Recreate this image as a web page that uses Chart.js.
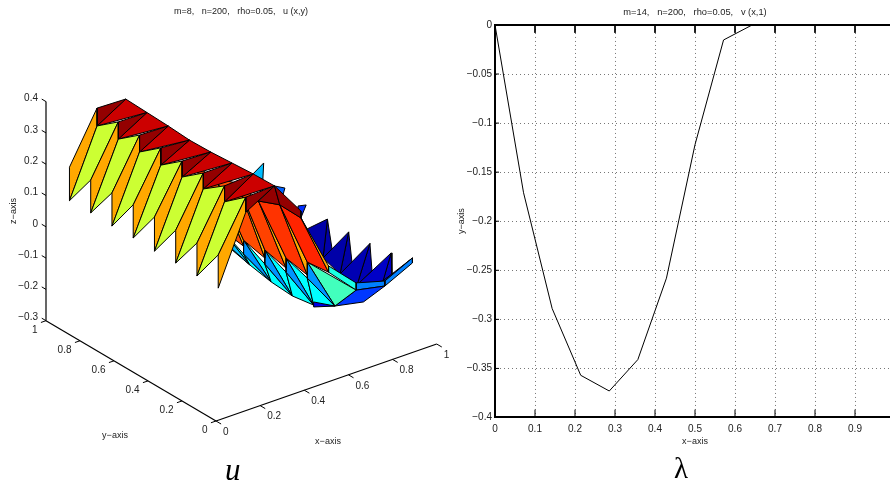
<!DOCTYPE html>
<html>
<head>
<meta charset="utf-8">
<title>u and lambda</title>
<script src="https://cdn.jsdelivr.net/npm/chart.js@4"></script>
<style>
  html, body { margin: 0; padding: 0; background: #fff; overflow: hidden; width: 890px; height: 481px; }
  canvas { position: absolute; top: 0; }
  #surfaceChart { left: 0; }
  #lineChart { left: 445px; }
  .caption { position: absolute; color: #000; font-family: "Liberation Serif", serif; line-height: 1; }
</style>
</head>
<body>
<canvas id="surfaceChart" width="470" height="481"></canvas>
<canvas id="lineChart" width="456" height="481"></canvas>
<div class="caption" id="captionU" style="left:225px;top:454px;font-size:31px;font-style:italic;">u</div>
<div class="caption" id="captionL" style="left:674px;top:454px;font-size:29px;">λ</div>
<script>
// right panel: v(x,1) values
const lineX = [0, 0.0714, 0.1429, 0.2143, 0.2857, 0.3571, 0.4286, 0.5, 0.5714, 0.6429, 0.7143, 0.7857, 0.8571, 0.9286, 1];
const lineV = [0, -0.171, -0.289, -0.357, -0.373, -0.341, -0.258, -0.122, -0.0153, 0, 0, 0, 0, 0, 0];
const lineXTicks = [0, 0.1, 0.2, 0.3, 0.4, 0.5, 0.6, 0.7, 0.8, 0.9, 1];
const lineXLabels = ["0", "0.1", "0.2", "0.3", "0.4", "0.5", "0.6", "0.7", "0.8", "0.9", ""];
const lineYTicks = [0, -0.05, -0.1, -0.15, -0.2, -0.25, -0.3, -0.35, -0.4];
const lineYLabels = ["0", "−0.05", "−0.1", "−0.15", "−0.2", "−0.25", "−0.3", "−0.35", "−0.4"];

// left panel: tick labels of the 3d box
const boxXTicks = [0, 0.2, 0.4, 0.6, 0.8, 1];
const boxYTicks = [0, 0.2, 0.4, 0.6, 0.8, 1];
const boxZTicks = [-0.3, -0.2, -0.1, 0, 0.1, 0.2, 0.3, 0.4];
const boxZLabels = ["−0.3", "−0.2", "−0.1", "0", "0.1", "0.2", "0.3", "0.4"];

// left panel: the mesh. rows are y = j/8, every array below is indexed by j
const rowY = [0, 0.125, 0.25, 0.375, 0.5, 0.625, 0.75, 0.875];
const colX = [0.01, 0.135, 0.265, 0.385, 0.51, 0.635];
// u on the element edges, two values per node because it jumps
const edgeLow = [0.122, 0.121, 0.122, 0.120, 0.122, 0.120, 0.122, 0.121];
const edgeHigh = [0.228, 0.226, 0.227, 0.229, 0.228, 0.226, 0.227, 0.228];
const crestHigh = [0.382, 0.378, 0.379, 0.377, 0.379, 0.380, 0.382, 0.386];
const crestLow = [0.334, 0.327, 0.328, 0.326, 0.324, 0.326, 0.327, 0.329];
const ridge = [0.386, 0.384, 0.379, 0.374, 0.372, 0.377, 0.380, 0.383];
const shoulder = [0.254, 0.256, 0.228, 0.245, 0.22, 0.22];
const shoulderPeak = 0.276;
const midHigh = [0.07, 0.042, 0.015, 0.001, -0.008, -0.016];
const midLow = [0.05, 0.001, -0.017, -0.025, -0.027];
const midBlue = [null, -0.009, -0.03, -0.044, -0.052, -0.048];
const trough = [null, -0.129, -0.166, -0.177, -0.172, -0.158, -0.141];
const troughEnd = { x: 0.668, z: -0.084 };
const frontLip = [-0.015, -0.038];
const troughBottom = [-0.156, -0.172];
// back row of spikes at x = 0.89
const spikeX = 0.89;
const spikeZ = [0.002, -0.022, -0.032, -0.035, -0.034, -0.029, -0.015, 0.025];
const spikeEndLow = -0.014;
const spikeLevels = [0.13, 0.07, 0.05, 0.04, 0.04, 0.17, 0.22, 0.31];
const baseX = 0.765;
const baseY = [0, 0.0106, 0.1635, 0.2635, 0.3635, 0.481];
const baseZ = [-0.041, -0.044, -0.106, -0.103, -0.084, -0.035];
const baseEndLow = -0.057;
const notchX = 0.8;
const notchY = [null, 0.0035, 0.121, 0.239, 0.356];
const notchZ = [null, -0.028, -0.056, -0.065, -0.061];
const farLeftY = [0.511, 0.652, 0.775];
const farLeftZ = [0.035, 0.054, 0.053];
const farLowY = [0.499, 0.616, 0.722];
const farLowZ = [-0.006, 0.004, 0.003];
// orange red faces, one level per row
const slopeLevels = [null, 0.84, 0.825, 0.81, 0.80, 0.80];

// view of the 3d box, gives screen plane coordinates for the hidden scatter scales
function project(x, y, z) {
  return { x: 216 + 220.7 * x - 170 * y, y: 421 - 77 * x - 100.3 * y - 313 * (z + 0.3) };
}

function jet(t) {
  const c = (v) => Math.round(255 * Math.max(0, Math.min(1, v)));
  const r = c(Math.min(4 * t - 1.5, -4 * t + 4.5));
  const g = c(Math.min(4 * t - 0.5, -4 * t + 3.5));
  const b = c(Math.min(4 * t + 0.5, -4 * t + 2.5));
  return "rgb(" + r + "," + g + "," + b + ")";
}

const facets = [];
function addFacet(level, nodes) {
  facets.push({ level, points: nodes.map((n) => project(n[0], n[1], n[2])) });
}
const at = (k, j, z) => [colX[k], rowY[j], z];
const spike = (j) => [spikeX, rowY[j], spikeZ[j]];
const base = (j) => [baseX, baseY[j], baseZ[j]];

// painted back to front
for (let j = 7; j >= 5; j--) {
  addFacet(spikeLevels[j], [[baseX, farLeftY[j - 5], farLeftZ[j - 5]], spike(j), [baseX, farLowY[j - 5], farLowZ[j - 5]]]);
}
for (let j = 4; j >= 0; j--) {
  if (j > 0) addFacet(spikeLevels[j], [spike(j), [notchX, notchY[j], notchZ[j]], base(j)]);
  addFacet(spikeLevels[j], [base(j + 1), spike(j), base(j)]);
}
const baseEnd = [baseX, 0, baseEndLow];
const lipTop = at(5, 0, frontLip[0]);
const lipLow = at(5, 0, frontLip[1]);
addFacet(0.25, [base(0), spike(0), [spikeX, 0, spikeEndLow], baseEnd]);
addFacet(0.25, [lipTop, base(0), baseEnd, lipLow]);
addFacet(0.18, [lipLow, baseEnd, [troughEnd.x, 0, troughEnd.z], at(5, 1, trough[1])]);
addFacet(0.40, [at(4, 0, midHigh[0]), lipTop, lipLow, at(4, 0, midLow[0])]);
addFacet(0.44, [at(4, 1, midHigh[1]), lipLow, at(5, 1, trough[1])]);

for (let j = 5; j >= 1; j--) {
  if (j > 1) addFacet(0.375, [at(4, j, midHigh[j]), at(5, j, trough[j]), at(4, j - 1, midBlue[j - 1])]);
  addFacet(0.375, [at(4, j, midBlue[j]), at(5, j, trough[j]), at(5, j + 1, trough[j + 1])]);
  addFacet(j === 5 ? 0.31 : 0.27, [at(4, j, midHigh[j]), at(4, j, midBlue[j]), at(5, j, trough[j])]);
}
addFacet(0.1, [at(5, 2, troughBottom[0]), at(5, 1, trough[1]), at(5, 2, troughBottom[1])]);

for (let j = 5; j >= 1; j--) {
  addFacet(slopeLevels[j], [at(3, j, shoulder[j]), at(3, j - 1, shoulder[j - 1]), at(4, j - 1, midLow[j - 1]), at(4, j, midHigh[j])]);
  addFacet(0.71, [at(3, j - 1, shoulder[j - 1]), at(4, j - 1, midHigh[j - 1]), at(4, j - 1, midLow[j - 1])]);
}
addFacet(0.98, [at(2, 0, ridge[0]), at(3, 1, shoulder[1]), at(3, 2, shoulder[2])]);
addFacet(0.98, [at(2, 0, ridge[0]), at(3, 0, shoulderPeak), at(3, 0, shoulder[0]), at(3, 1, shoulder[1])]);

for (let j = 7; j >= 0; j--) {
  if (j > 0) addFacet(0.925, [at(1, j, crestLow[j]), at(2, j, ridge[j]), at(2, j - 1, ridge[j - 1])]);
  addFacet(0.98, [at(1, j, crestHigh[j]), at(2, j, ridge[j]), at(1, j, crestLow[j])]);
  addFacet(0.71, [at(0, j, edgeHigh[j]), at(1, j, crestHigh[j]), at(1, j, crestLow[j]), at(0, j, edgeLow[j])]);
  if (j > 0) addFacet(0.575, [at(0, j, edgeLow[j]), at(1, j, crestLow[j]), at(1, j - 1, crestHigh[j - 1]), at(0, j - 1, edgeHigh[j - 1])]);
}

// box axes and ticks
const boxLines = [];
function addBoxLine(a, b, width) {
  boxLines.push({ points: [project(a[0], a[1], a[2]), project(b[0], b[1], b[2])], width });
}
addBoxLine([0, 0, -0.3], [1, 0, -0.3], 1.2);
addBoxLine([0, 0, -0.3], [0, 1, -0.3], 1.2);
addBoxLine([0, 1, -0.3], [0, 1, 0.4], 1.2);
boxXTicks.forEach((t) => addBoxLine([t, 0, -0.3], [t, -0.03, -0.3], 1));
boxYTicks.forEach((t) => addBoxLine([0, t, -0.3], [-0.023, t, -0.3], 1));
boxZTicks.forEach((t) => addBoxLine([0, 1, t], [0, 1.025, t], 1));

const panelFont = '"Liberation Sans", sans-serif';

// fills a closed dataset line with its facet colour
const facetFill = {
  id: "facetFill",
  beforeDatasetDraw(chart, args) {
    const color = chart.data.datasets[args.index].facetColor;
    if (!color) return;
    const pts = args.meta.data;
    const ctx = chart.ctx;
    ctx.save();
    ctx.beginPath();
    pts.forEach((p, i) => (i ? ctx.lineTo(p.x, p.y) : ctx.moveTo(p.x, p.y)));
    ctx.closePath();
    ctx.fillStyle = color;
    ctx.fill();
    ctx.restore();
  },
};

// labels of the 3d box
const boxText = {
  id: "boxText",
  afterDraw(chart) {
    const ctx = chart.ctx;
    const put = (text, x, y, align) => {
      ctx.textAlign = align;
      ctx.fillText(text, x, y);
    };
    ctx.save();
    ctx.fillStyle = "#222";
    ctx.textBaseline = "middle";
    ctx.font = "10px " + panelFont;
    boxXTicks.forEach((t) => {
      const p = project(t, 0, -0.3);
      put(String(t), p.x + 7, p.y + 11, "left");
    });
    boxYTicks.forEach((t) => {
      const p = project(0, t, -0.3);
      put(String(t), p.x - 8.5, p.y + 9.5, "right");
    });
    boxZTicks.forEach((t, i) => {
      const p = project(0, 1, t);
      put(boxZLabels[i], 38, p.y - 3, "right");
    });
    ctx.font = "9px " + panelFont;
    put("y−axis", 115, 436, "center");
    put("x−axis", 328, 442, "center");
    put("m=8,   n=200,   rho=0.05,   u (x,y)", 241, 12, "center");
    ctx.translate(14, 211);
    ctx.rotate(-Math.PI / 2);
    put("z−axis", 0, 0, "center");
    ctx.restore();
  },
};

const surfaceDatasets = [];
facets.forEach((f) => {
  surfaceDatasets.push({
    data: f.points.concat([f.points[0]]),
    facetColor: jet(f.level),
    showLine: true,
    borderColor: "#000",
    borderWidth: 1,
    borderJoinStyle: "round",
    pointRadius: 0,
    clip: false,
  });
});
boxLines.forEach((l) => {
  surfaceDatasets.push({ data: l.points, showLine: true, borderColor: "#000", borderWidth: l.width, pointRadius: 0, clip: false });
});
// chart.js paints the highest order first
surfaceDatasets.forEach((d, i) => { d.order = surfaceDatasets.length - i; });

new Chart(document.getElementById("surfaceChart"), {
  type: "scatter",
  data: { datasets: surfaceDatasets },
  options: {
    responsive: false,
    animation: false,
    events: [],
    layout: { padding: 0 },
    plugins: { legend: { display: false }, tooltip: { enabled: false } },
    scales: {
      x: { display: false, min: 0, max: 470 },
      y: { display: false, min: 0, max: 481, reverse: true },
    },
  },
  plugins: [facetFill, boxText],
});

// right panel
const lineDatasets = [
  {
    data: lineX.map((x, i) => ({ x, y: lineV[i] })),
    showLine: true,
    borderColor: "#000",
    borderWidth: 1,
    pointRadius: 0,
    clip: false,
  },
  { data: [{ x: 0, y: 0 }, { x: 1, y: 0 }], showLine: true, borderColor: "#000", borderWidth: 2, pointRadius: 0, clip: false },
];
// inward tick marks
lineXTicks.forEach((t) => {
  lineDatasets.push({ data: [{ x: t, y: -0.4 }, { x: t, y: -0.392 }], showLine: true, borderColor: "#000", borderWidth: 1, pointRadius: 0 });
  lineDatasets.push({ data: [{ x: t, y: 0 }, { x: t, y: -0.008 }], showLine: true, borderColor: "#000", borderWidth: 1, pointRadius: 0 });
});
lineYTicks.forEach((t) => {
  lineDatasets.push({ data: [{ x: 0, y: t }, { x: 0.01, y: t }], showLine: true, borderColor: "#000", borderWidth: 1, pointRadius: 0 });
});

new Chart(document.getElementById("lineChart"), {
  type: "scatter",
  data: { datasets: lineDatasets },
  options: {
    responsive: false,
    animation: false,
    events: [],
    layout: { padding: 0 },
    plugins: {
      legend: { display: false },
      tooltip: { enabled: false },
      title: {
        display: true,
        fullSize: false,
        text: "m=14,   n=200,   rho=0.05,   v (x,1)",
        color: "#222",
        font: { family: panelFont, size: 9.3, weight: "normal", lineHeight: 1.2 },
        padding: { top: 7, bottom: 6.8 },
      },
    },
    scales: {
      x: {
        type: "linear",
        min: 0,
        max: 1,
        afterFit: (scale) => { scale.height = 63.5; },
        afterBuildTicks: (scale) => { scale.ticks = lineXTicks.map((value) => ({ value })); },
        title: { display: true, text: "x−axis", color: "#222", font: { family: panelFont, size: 9 }, padding: { top: 0, bottom: 34 } },
        ticks: {
          autoSkip: false,
          maxRotation: 0,
          padding: 6,
          color: "#222",
          font: { family: panelFont, size: 10 },
          callback: (value, i) => lineXLabels[i],
        },
        grid: { color: "#777", drawTicks: false, lineWidth: 1 },
        border: { display: true, color: "#000", width: 2, dash: [1, 3] },
      },
      y: {
        type: "linear",
        min: -0.4,
        max: 0,
        afterFit: (scale) => { scale.width = 50; },
        afterBuildTicks: (scale) => { scale.ticks = lineYTicks.slice().reverse().map((value) => ({ value })); },
        title: { display: true, text: "y−axis", color: "#222", font: { family: panelFont, size: 9 }, padding: { top: 11, bottom: 0 } },
        ticks: {
          autoSkip: false,
          padding: 3,
          color: "#222",
          font: { family: panelFont, size: 10 },
          callback: (value, i) => lineYLabels[lineYLabels.length - 1 - i],
        },
        grid: { color: "#777", drawTicks: false, lineWidth: 1 },
        border: { display: true, color: "#000", width: 2, dash: [1, 3] },
      },
    },
  },
});
</script>
</body>
</html>
